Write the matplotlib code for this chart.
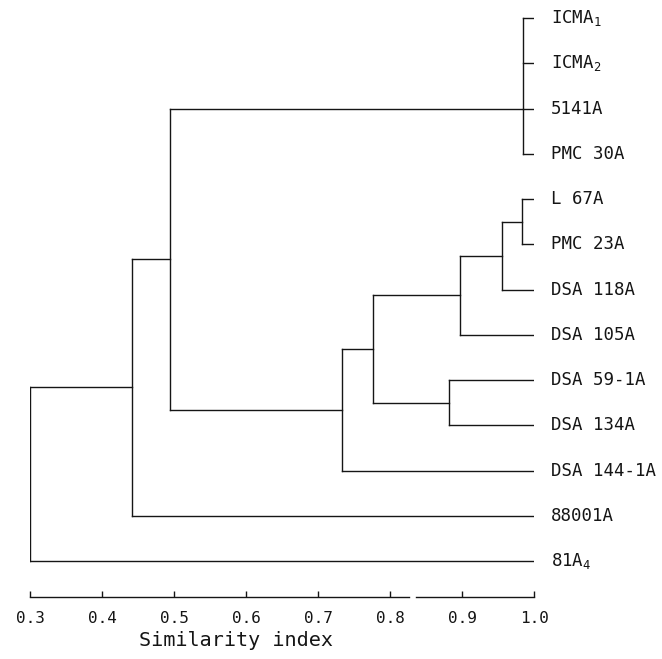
import matplotlib
matplotlib.use("Agg")
import matplotlib.pyplot as plt

# ------------------------------------------------------------
# Donnees du dendrogramme
# ------------------------------------------------------------
leaf_labels = [
    "ICMA$_1$", "ICMA$_2$", "5141A", "PMC 30A",
    "L 67A", "PMC 23A", "DSA 118A", "DSA 105A",
    "DSA 59-1A", "DSA 134A", "DSA 144-1A", "88001A", "81A$_4$",
]

# chaque fusion : enfants (0-12 = feuilles, 13+ = fusions precedentes)
merge_children = [
    [0, 1, 2, 3],   # 13
    [4, 5],         # 14
    [14, 6],        # 15
    [15, 7],        # 16
    [8, 9],         # 17
    [16, 17],       # 18
    [18, 10],       # 19
    [13, 19],       # 20
    [20, 11],       # 21
    [21, 12],       # 22
]
merge_levels = [0.985, 0.983, 0.956, 0.897, 0.882, 0.776, 0.733, 0.495, 0.442, 0.30]
leaf_level = 0.998

tick_values = [0.3, 0.4, 0.5, 0.6, 0.7, 0.8, 0.9, 1.0]
tick_labels = ["0.3", "0.4", "0.5", "0.6", "0.7", "0.8", "0.9", "1.0"]
axis_break = (0.826, 0.836)

# ------------------------------------------------------------
# Style
# ------------------------------------------------------------
plt.rcParams["font.family"] = ["DejaVu Sans Mono", "DejaVu Sans"]
plt.rcParams["mathtext.fontset"] = "custom"
plt.rcParams["mathtext.rm"] = "DejaVu Sans Mono"
plt.rcParams["mathtext.it"] = "DejaVu Sans Mono"

COUL = "#151515"
LW = 1.0

fig = plt.figure(figsize=(6.62, 6.59), dpi=100)
ax = fig.add_axes([30 / 662, 62 / 659, 504 / 662, 597 / 659])
ax.set_xlim(0.3, 1.0)
y_bas = 12.795
ax.set_ylim(y_bas, -0.398)

# positions verticales des noeuds
pos_y = {i: float(i) for i in range(len(leaf_labels))}
pos_x = {i: leaf_level for i in range(len(leaf_labels))}

for k, (enfants, niveau) in enumerate(zip(merge_children, merge_levels)):
    noeud = len(leaf_labels) + k
    ys = [pos_y[e] for e in enfants]
    # barre verticale
    ax.plot([niveau, niveau], [min(ys), max(ys)], color=COUL, lw=LW)
    # branches horizontales vers les enfants
    for e in enfants:
        ax.plot([niveau, pos_x[e]], [pos_y[e], pos_y[e]], color=COUL, lw=LW)
    if len(enfants) == 2:
        pos_y[noeud] = (ys[0] + ys[1]) / 2
    else:
        pos_y[noeud] = ys[len(ys) // 2]
    pos_x[noeud] = niveau

# etiquettes des souches
for i, nom in enumerate(leaf_labels):
    ax.text(1.024, pos_y[i], nom, fontsize=12.5, color=COUL,
            ha="left", va="center", clip_on=False)

# axe des similarites (avec une petite coupure)
for s in ["top", "right", "left"]:
    ax.spines[s].set_visible(False)
ax.spines["bottom"].set_bounds(0.3, axis_break[0])
ax.spines["bottom"].set_color(COUL)
ax.spines["bottom"].set_linewidth(LW)
ax.plot([axis_break[1], 1.0], [y_bas, y_bas], color=COUL, lw=LW, clip_on=False)

ax.set_yticks([])
ax.set_xticks(tick_values)
ax.set_xticklabels(tick_labels)
ax.tick_params(axis="x", direction="in", length=4, width=LW, color=COUL,
               pad=10, labelsize=11.5, labelcolor=COUL)

fig.text(236 / 662, 1 - 640 / 659, "Similarity index", fontsize=14.5,
         color=COUL, ha="center", va="center")

fig.savefig("out.png", dpi=100)
